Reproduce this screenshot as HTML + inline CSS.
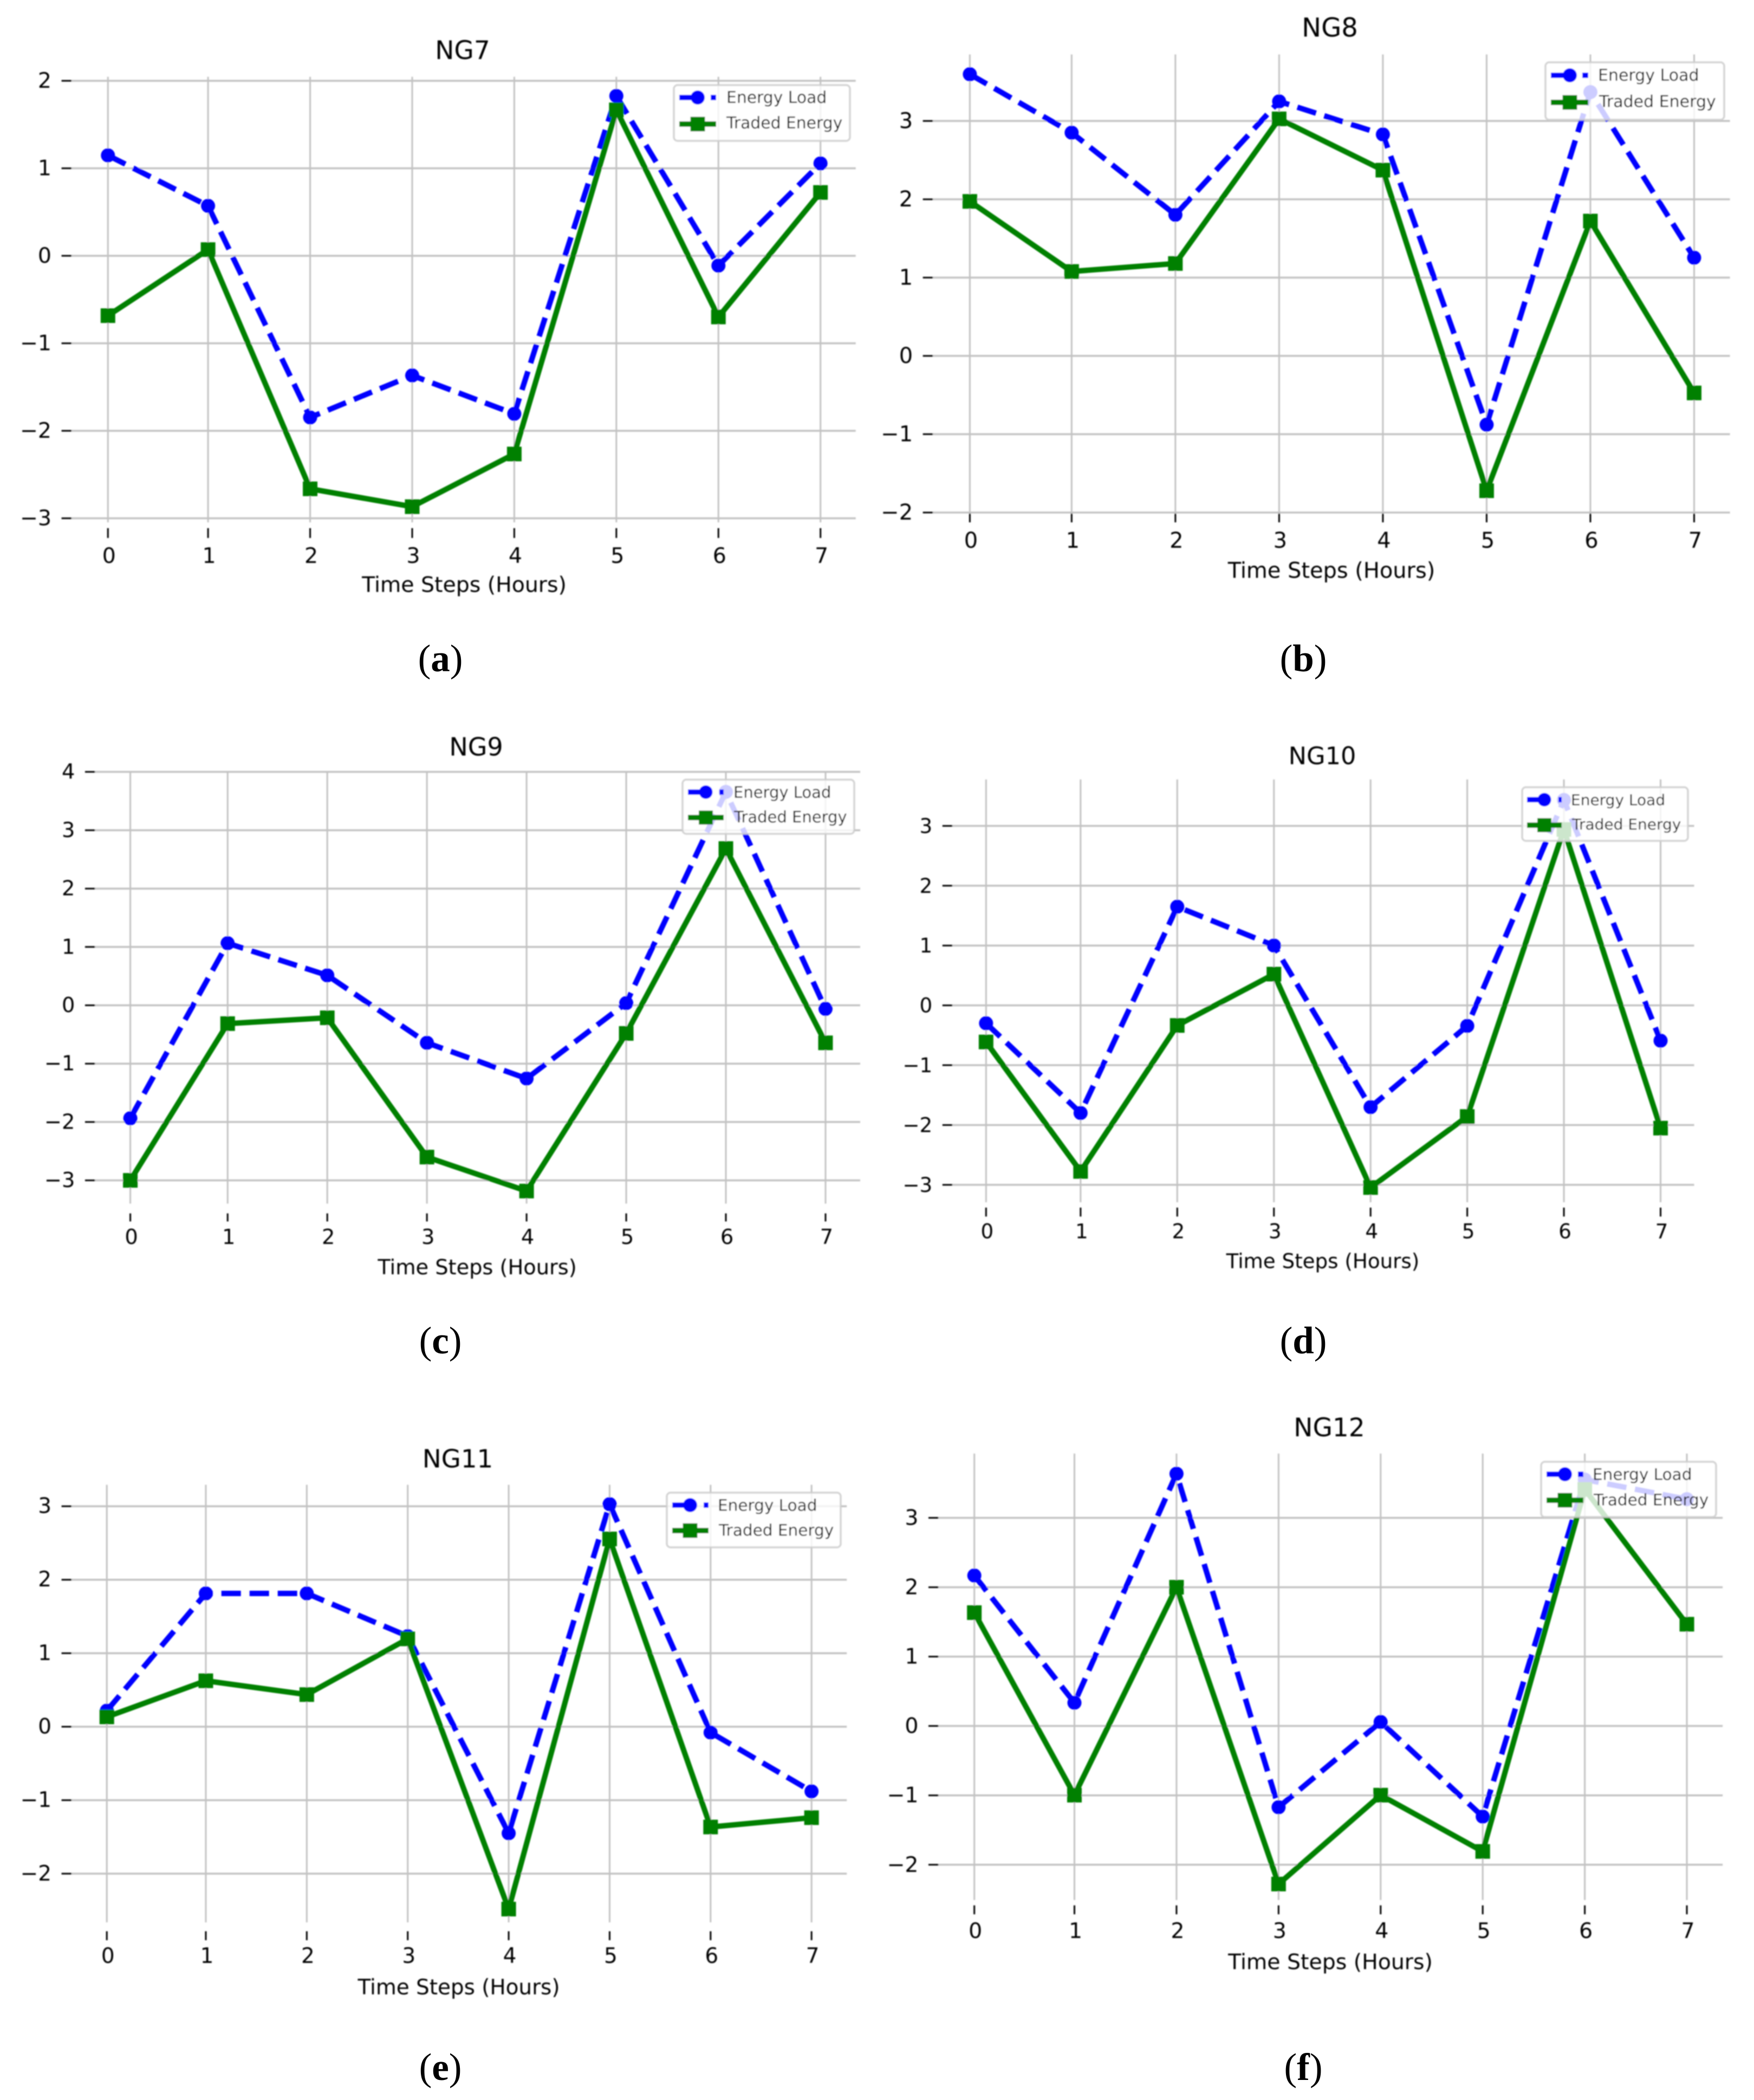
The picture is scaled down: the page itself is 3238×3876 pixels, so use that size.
<!DOCTYPE html>
<html lang="en">
<head>
<meta charset="utf-8">
<title>NG7–NG12 Energy Load and Traded Energy</title>
<style>
html,body{margin:0;padding:0;background:#fff;}
svg{display:block;}
.t{font-family:"DejaVu Sans",sans-serif;fill:#000;text-anchor:middle;dominant-baseline:central;transform:translateY(2.5px);}
.lg{font-family:"DejaVu Sans",sans-serif;fill:#000;dominant-baseline:central;transform:translateY(2.5px);}
.cap{font-family:"Liberation Serif",serif;fill:#000;text-anchor:middle;dominant-baseline:central;font-size:71px;}
.cap tspan{font-weight:bold;}
.legend-box{fill:#fff;fill-opacity:.8;stroke:#ccc;stroke-opacity:.85;stroke-width:3.5;}
</style>
</head>
<body>
<svg xmlns="http://www.w3.org/2000/svg" width="3238" height="3876" viewBox="0 0 3238 3876">
<defs><filter id="soft" x="-5%" y="-5%" width="110%" height="110%"><feGaussianBlur stdDeviation="1.1"/></filter></defs>

<g id="panel-ng7" filter="url(#soft)">
  <g class="plot"></g>
  <text class="t" x="854" y="91" font-size="47">NG7</text>
  <text class="t" x="857" y="1077" font-size="39.4">Time Steps (Hours)</text>
  <g>
    <rect class="legend-box" x="1244" y="157" width="325" height="103" rx="7"/>
    <line x1="1254" x2="1322" y1="180" y2="180" stroke="#00f" stroke-width="10" stroke-dasharray="42 16"/>
    <circle cx="1288" cy="180" r="13" fill="#00f"/>
    <text class="lg" x="1341" y="178" font-size="29.8">Energy Load</text>
    <line x1="1254" x2="1322" y1="229" y2="229" stroke="#008000" stroke-width="10"/>
    <rect x="1274.500" y="215.500" width="27" height="27" fill="#008000"/>
    <text class="lg" x="1341" y="225" font-size="29.8">Traded Energy</text>
  </g>
</g>
<text class="cap" x="813" y="1216">(<tspan>a</tspan>)</text>

<g id="panel-ng8" filter="url(#soft)">
  <g class="plot"></g>
  <text class="t" x="2455" y="49" font-size="48">NG8</text>
  <text class="t" x="2458" y="1051" font-size="39.9">Time Steps (Hours)</text>
  <g>
    <rect class="legend-box" x="2853" y="115" width="330" height="106" rx="7"/>
    <line x1="2863" x2="2932" y1="139" y2="139" stroke="#00f" stroke-width="10" stroke-dasharray="42 16"/>
    <circle cx="2898" cy="139" r="13" fill="#00f"/>
    <text class="lg" x="2950" y="137" font-size="30">Energy Load</text>
    <line x1="2863" x2="2932" y1="189" y2="189" stroke="#008000" stroke-width="10"/>
    <rect x="2884.500" y="175.500" width="27" height="27" fill="#008000"/>
    <text class="lg" x="2952" y="185.500" font-size="30">Traded Energy</text>
  </g>
</g>
<text class="cap" x="2406" y="1216">(<tspan>b</tspan>)</text>

<g id="panel-ng9" filter="url(#soft)">
  <g class="plot"></g>
  <text class="t" x="879" y="1376" font-size="46">NG9</text>
  <text class="t" x="881" y="2337" font-size="38.300">Time Steps (Hours)</text>
  <g>
    <rect class="legend-box" x="1260" y="1439" width="317" height="100" rx="7"/>
    <line x1="1270" x2="1336" y1="1462" y2="1462" stroke="#00f" stroke-width="10" stroke-dasharray="42 16"/>
    <circle cx="1303" cy="1462" r="12.500" fill="#00f"/>
    <text class="lg" x="1354" y="1460" font-size="29">Energy Load</text>
    <line x1="1270" x2="1336" y1="1509" y2="1509" stroke="#008000" stroke-width="10"/>
    <rect x="1290" y="1496" width="26" height="26" fill="#008000"/>
    <text class="lg" x="1355" y="1505.500" font-size="29">Traded Energy</text>
  </g>
</g>
<text class="cap" x="813" y="2475">(<tspan>c</tspan>)</text>

<g id="panel-ng10" filter="url(#soft)">
  <g class="plot"></g>
  <text class="t" x="2441" y="1393" font-size="44.600">NG10</text>
  <text class="t" x="2442" y="2325" font-size="37.200">Time Steps (Hours)</text>
  <g>
    <rect class="legend-box" x="2810" y="1453" width="306" height="99" rx="7"/>
    <line x1="2819" x2="2883" y1="1476" y2="1476" stroke="#00f" stroke-width="10" stroke-dasharray="42 16"/>
    <circle cx="2851" cy="1476" r="12.500" fill="#00f"/>
    <text class="lg" x="2900" y="1474" font-size="28">Energy Load</text>
    <line x1="2819" x2="2883" y1="1523" y2="1523" stroke="#008000" stroke-width="10"/>
    <rect x="2838" y="1510" width="26" height="26" fill="#008000"/>
    <text class="lg" x="2902" y="1519" font-size="28">Traded Energy</text>
  </g>
</g>
<text class="cap" x="2406" y="2475">(<tspan>d</tspan>)</text>

<g id="panel-ng11" filter="url(#soft)">
  <g class="plot"></g>
  <text class="t" x="845" y="2691" font-size="46.700">NG11</text>
  <text class="t" x="847" y="3666" font-size="38.900">Time Steps (Hours)</text>
  <g>
    <rect class="legend-box" x="1231" y="2755" width="321" height="101" rx="7"/>
    <line x1="1241" x2="1308" y1="2778" y2="2778" stroke="#00f" stroke-width="10" stroke-dasharray="42 16"/>
    <circle cx="1274" cy="2778" r="13" fill="#00f"/>
    <text class="lg" x="1325" y="2776" font-size="29.500">Energy Load</text>
    <line x1="1241" x2="1308" y1="2825" y2="2825" stroke="#008000" stroke-width="10"/>
    <rect x="1260.500" y="2811.500" width="27" height="27" fill="#008000"/>
    <text class="lg" x="1327" y="2822" font-size="29.500">Traded Energy</text>
  </g>
</g>
<text class="cap" x="813" y="3816">(<tspan>e</tspan>)</text>

<g id="panel-ng12" filter="url(#soft)">
  <g class="plot"></g>
  <text class="t" x="2454" y="2633" font-size="47">NG12</text>
  <text class="t" x="2456" y="3619" font-size="39.400">Time Steps (Hours)</text>
  <g>
    <rect class="legend-box" x="2845" y="2698" width="323" height="102" rx="7"/>
    <line x1="2855" x2="2923" y1="2721" y2="2721" stroke="#00f" stroke-width="10" stroke-dasharray="42 16"/>
    <circle cx="2889" cy="2721" r="13" fill="#00f"/>
    <text class="lg" x="2940" y="2719" font-size="29.500">Energy Load</text>
    <line x1="2855" x2="2923" y1="2769" y2="2769" stroke="#008000" stroke-width="10"/>
    <rect x="2875.500" y="2755.500" width="27" height="27" fill="#008000"/>
    <text class="lg" x="2942" y="2766" font-size="29.500">Traded Energy</text>
  </g>
</g>
<text class="cap" x="2406" y="3816">(<tspan>f</tspan>)</text>
</svg>

<script>
const categories = [0, 1, 2, 3, 4, 5, 6, 7];

const ng7YTicks = [2, 1, 0, -1, -2, -3];
const ng7Load = [1.148, 0.571, -1.847, -1.367, -1.806, 1.827, -0.112, 1.056];
const ng7Traded = [-0.684, 0.071, -2.663, -2.867, -2.265, 1.668, -0.699, 0.724];

const ng8YTicks = [3, 2, 1, 0, -1, -2];
const ng8Load = [3.597, 2.851, 1.802, 3.250, 2.828, -0.878, 3.369, 1.254];
const ng8Traded = [1.973, 1.078, 1.180, 3.027, 2.372, -1.722, 1.722, -0.473];

const ng9YTicks = [4, 3, 2, 1, 0, -1, -2, -3];
const ng9Load = [-1.936, 1.064, 0.513, -0.643, -1.255, 0.038, 3.657, -0.061];
const ng9Traded = [-3.0, -0.314, -0.214, -2.601, -3.183, -0.482, 2.686, -0.643];

const ng10YTicks = [3, 2, 1, 0, -1, -2, -3];
const ng10Load = [-0.299, -1.799, 1.649, 1.0, -1.701, -0.343, 3.433, -0.59];
const ng10Traded = [-0.612, -2.776, -0.336, 0.522, -3.045, -1.858, 2.94, -2.052];

const ng11YTicks = [3, 2, 1, 0, -1, -2];
const ng11Load = [0.218, 1.814, 1.814, 1.232, -1.45, 3.028, -0.079, -0.88];
const ng11Traded = [0.133, 0.625, 0.437, 1.195, -2.482, 2.555, -1.365, -1.238];

const ng12YTicks = [3, 2, 1, 0, -1, -2];
const ng12Load = [2.169, 0.335, 3.636, -1.171, 0.058, -1.306, 3.552, 3.27];
const ng12Traded = [1.634, -0.997, 2.0, -2.278, -0.997, -1.808, 3.41, 1.467];

/* Layout only: pixel frames for each panel, separate from the data above. */
const SX = 1.0325, SY = 0.824;
const panels = [
  {id:'panel-ng7', key:'ng7', load:ng7Load, traded:ng7Traded, ticks:ng7YTicks, font:39.4,
   ox:0, oy:0, x0:193, x1:372, x7:1467, top:181, bot:1161, gridL:128, gridR:1530, vTop:172, vBot:1170, tickT:1183, tickB:1205, labelY:1242},
  {id:'panel-ng8', key:'ng8', load:ng8Load, traded:ng8Traded, ticks:ng8YTicks, font:39.9,
   ox:1619, oy:0, x0:166, x1:348, x7:1461, top:271, bot:1148, gridL:100, gridR:1525, vTop:122, vBot:1148, tickT:1150, tickB:1170, labelY:1208},
  {id:'panel-ng9', key:'ng9', load:ng9Load, traded:ng9Traded, ticks:ng9YTicks, font:38.3,
   ox:0, oy:1292, x0:233, x1:407, x7:1476, top:161, bot:1076, gridL:170, gridR:1538, vTop:161, vBot:1128, tickT:1150, tickB:1168, labelY:1200},
  {id:'panel-ng10', key:'ng10', load:ng10Load, traded:ng10Traded, ticks:ng10YTicks, font:37.2,
   ox:1619, oy:1292, x0:195, x1:364, x7:1401, top:282, bot:1086, gridL:135, gridR:1461, vTop:178, vBot:1125, tickT:1137, tickB:1157, labelY:1187},
  {id:'panel-ng11', key:'ng11', load:ng11Load, traded:ng11Traded, ticks:ng11YTicks, font:38.9,
   ox:0, oy:2584, x0:191, x1:368, x7:1451, top:238, bot:1061, gridL:128, gridR:1514, vTop:190, vBot:1170, tickT:1190, tickB:1210, labelY:1243},
  {id:'panel-ng12', key:'ng12', load:ng12Load, traded:ng12Traded, ticks:ng12YTicks, font:39.4,
   ox:1619, oy:2584, x0:174, x1:353, x7:1448, top:264, bot:1041, gridL:110, gridR:1512, vTop:120, vBot:1120, tickT:1132, tickB:1152, labelY:1186}
];

const NS = 'http://www.w3.org/2000/svg';
function make(parent, tag, attrs) {
  const node = document.createElementNS(NS, tag);
  for (const k in attrs) node.setAttribute(k, attrs[k]);
  parent.appendChild(node);
  return node;
}
function px(p, v) { return p.ox + SX * v; }
function py(p, v) { return p.oy + SY * v; }
function xScale(p, c) {
  const first = categories[0], last = categories[categories.length - 1];
  const second = first + 1;
  if (c < second) return px(p, p.x0 + (c - first) * (p.x1 - p.x0));
  return px(p, p.x1 + (c - second) * (p.x7 - p.x1) / (last - second));
}
function yScale(p, v) {
  const hi = Math.max.apply(null, p.ticks), lo = Math.min.apply(null, p.ticks);
  return py(p, p.top + (hi - v) * (p.bot - p.top) / (hi - lo));
}
function fmt(v) { return v < 0 ? '\u2212' + Math.abs(v) : String(v); }

panels.forEach(function (p) {
  const plot = document.querySelector('#' + p.id + ' .plot');
  const textStyle = 'font-family:"DejaVu Sans",sans-serif;fill:#000;dominant-baseline:central;';

  p.ticks.forEach(function (t) {
    const y = yScale(p, t);
    const grid = make(plot, 'line', {x1:px(p, p.gridL), x2:px(p, p.gridR), y1:y, y2:y, stroke:'#c2c2c2', 'stroke-width':3.5});
    
    
    const tick = make(plot, 'line', {x1:px(p, p.gridL - 18), x2:px(p, p.gridL), y1:y, y2:y, stroke:'#000', 'stroke-width':3});
    
    
    const label = make(plot, 'text', {x:px(p, p.gridL - 36), y:y, 'font-size':p.font, 'text-anchor':'end', style:textStyle});
    label.textContent = fmt(t);
    
    
  });

  categories.forEach(function (c) {
    const x = xScale(p, c);
    const grid = make(plot, 'line', {x1:x, x2:x, y1:py(p, p.vTop), y2:py(p, p.vBot), stroke:'#c2c2c2', 'stroke-width':3});
    
    
    const tick = make(plot, 'line', {x1:x, x2:x, y1:py(p, p.tickT), y2:py(p, p.tickB), stroke:'#000', 'stroke-width':3});
    
    
    const label = make(plot, 'text', {x:x + 2, y:py(p, p.labelY) + 2.5, 'font-size':p.font, 'text-anchor':'middle', style:textStyle});
    label.textContent = fmt(c);
    
    
  });

  const loadPts = categories.map(function (c, i) { return xScale(p, c) + ',' + yScale(p, p.load[i]); }).join(' ');
  const loadLine = make(plot, 'polyline', {points:loadPts, fill:'none', stroke:'#0000ff', 'stroke-width':10, 'stroke-dasharray':'36 16', 'stroke-linejoin':'round'});
  
  
  categories.forEach(function (c, i) {
    const dot = make(plot, 'circle', {cx:xScale(p, c), cy:yScale(p, p.load[i]), r:13, fill:'#0000ff'});
    
    
  });

  const tradedPts = categories.map(function (c, i) { return xScale(p, c) + ',' + yScale(p, p.traded[i]); }).join(' ');
  const tradedLine = make(plot, 'polyline', {points:tradedPts, fill:'none', stroke:'#008000', 'stroke-width':10, 'stroke-linejoin':'round'});
  
  
  categories.forEach(function (c, i) {
    const square = make(plot, 'rect', {x:xScale(p, c) - 13.5, y:yScale(p, p.traded[i]) - 13.5, width:27, height:27, fill:'#008000'});
    
    
  });
});
</script>
</body>
</html>
